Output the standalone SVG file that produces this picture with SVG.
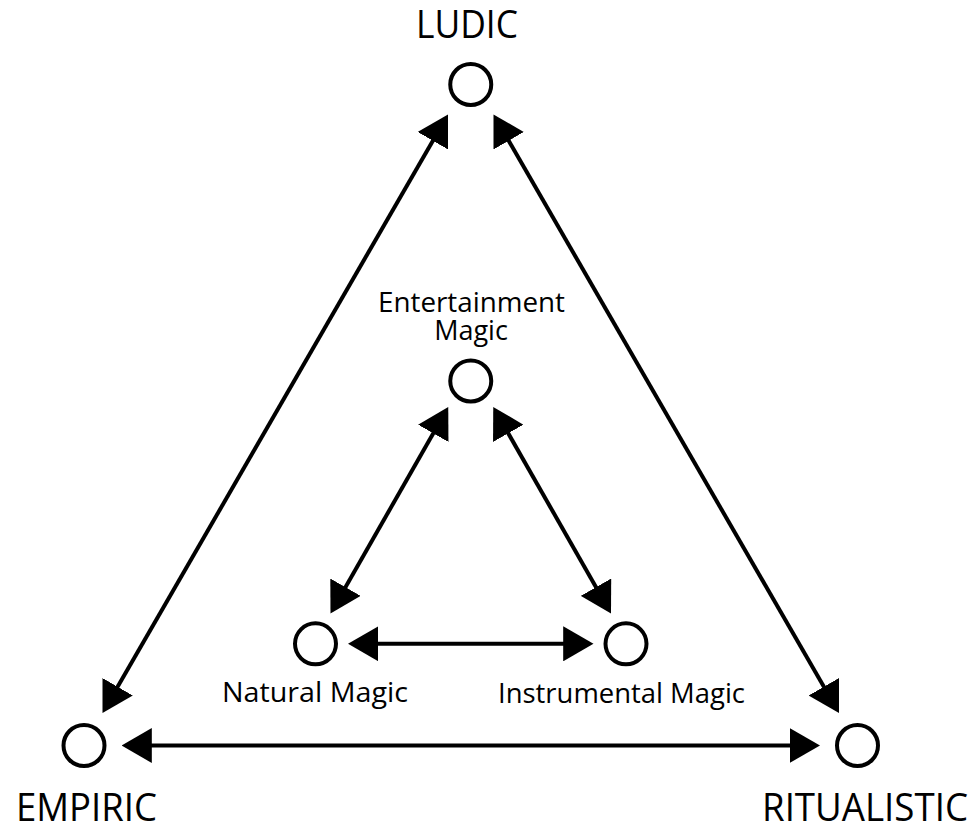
<svg xmlns="http://www.w3.org/2000/svg" width="970" height="825" viewBox="0 0 970 825">
<style>
.node circle{fill:#fff;stroke:#000;stroke-width:4}
.big{font-family:"Open Sans","Noto Sans","Liberation Sans",sans-serif;font-size:39px;fill:#000;text-anchor:middle}
.small{font-family:"Open Sans","Noto Sans","Liberation Sans",sans-serif;font-size:27px;fill:#000;text-anchor:middle}
#connectors line{stroke:#000;stroke-width:4;marker-start:url(#ah);marker-end:url(#ah)}
</style>
<defs>
<marker id="ah" viewBox="0 0 30.3 35" markerWidth="30.3" markerHeight="35" refX="22.3" refY="17.5" orient="auto-start-reverse" markerUnits="userSpaceOnUse"><path d="M0,0 L30.3,17.5 L0,35 z" fill="#000"/></marker>
</defs>
<rect width="970" height="825" fill="#fff"/>
<g id="connectors">
<line x1="106.5" y1="706.07" x2="444" y2="121.43"/>
<line x1="497.5" y1="121.43" x2="835" y2="706.07"/>
<line x1="129.5" y1="745.5" x2="812" y2="745.5"/>
<line x1="334.46" y1="606.55" x2="444.29" y2="413.95"/>
<line x1="497.21" y1="413.95" x2="607.04" y2="606.55"/>
<line x1="356" y1="643.8" x2="585.5" y2="643.8"/>
</g>
<g id="ludic" class="node"><circle cx="470.75" cy="84.5" r="20.5"/><text class="big" x="467" y="38" textLength="102" lengthAdjust="spacingAndGlyphs">LUDIC</text></g>
<g id="empiric" class="node"><circle cx="84" cy="745.5" r="20.5"/><text class="big" x="86.5" y="821" textLength="141" lengthAdjust="spacingAndGlyphs">EMPIRIC</text></g>
<g id="ritualistic" class="node"><circle cx="857.5" cy="745.5" r="20.5"/><text class="big" x="865" y="821" textLength="206" lengthAdjust="spacingAndGlyphs">RITUALISTIC</text></g>
<g id="entertainment" class="node"><circle cx="470.75" cy="381" r="20.5"/><text class="small" x="471.5" y="312" textLength="187" lengthAdjust="spacingAndGlyphs">Entertainment</text><text class="small" x="471" y="340">Magic</text></g>
<g id="natural" class="node"><circle cx="315.5" cy="643.8" r="20.5"/><text class="small" x="315" y="702" textLength="186" lengthAdjust="spacingAndGlyphs">Natural Magic</text></g>
<g id="instrumental" class="node"><circle cx="626" cy="643.8" r="20.5"/><text class="small" x="621.5" y="703" textLength="247" lengthAdjust="spacingAndGlyphs">Instrumental Magic</text></g>
</svg>
